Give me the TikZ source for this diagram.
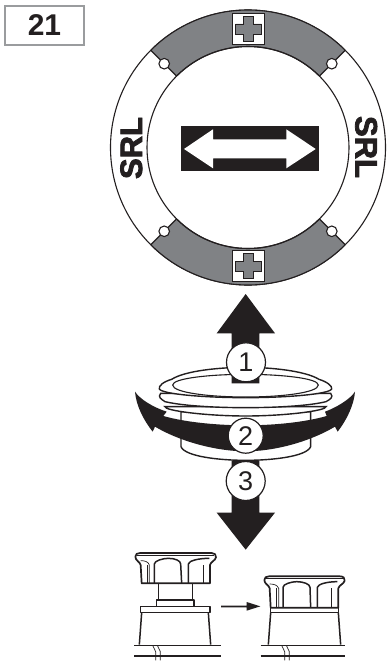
\documentclass[tikz,border=0pt]{standalone}
\usepackage{fontspec}
\setmainfont{Liberation Sans}
\newfontfamily\heavysans[FakeBold=2.5]{Liberation Sans Bold}
\definecolor{ink}{HTML}{231F20}
\definecolor{seg}{HTML}{808285}
\definecolor{frame}{HTML}{9A9C9E}
\tikzset{
  ringline/.style={draw=ink,line width=1.1pt},
  capline/.style={draw=ink,line width=1.4pt},
  numcirc/.style={circle,draw=ink,fill=white,line width=1.2pt,inner sep=0pt,text=ink,font=\fontsize{27}{27}\selectfont},
  srl/.style={text=ink,inner sep=0pt,font=\fontsize{31}{31}\heavysans},
  knob/.style={draw=ink,line width=1.5pt,line join=round},
  fineknob/.style={draw=ink,line width=.7pt},
  zooma/.style={shift={(120,280)},x=.33333pt,y=-.33333pt},
  zoomb/.style={shift={(120,540)},x=.33333pt,y=-.33333pt},
  crossbox/.style={draw=ink,line width=.9pt,fill=white},
  crossshape/.style={draw=ink,line width=.9pt,fill=seg},
  pin/.style={ringline,fill=white},
}
\begin{document}
\begin{tikzpicture}[x=1pt,y=-1pt]
\useasboundingbox[fill=white] (0,0) rectangle (386,661);
% title
\node[draw=frame,line width=1.2pt,fill=white,minimum width=79pt,minimum height=39pt,inner sep=0pt,text=ink,font=\fontsize{30}{30}\bfseries\selectfont] (title) at (44.5,25.5) {21};
% dial
\coordinate (c) at (248,147.5);
\draw[ringline,fill=white] (c) circle[radius=137.5];
\begin{scope}[shift={(248,147.5)}]
\foreach \a in {45,225}{
  \draw[ringline,fill=seg] (\a:137.5) arc[start angle=\a,end angle=\a+90,radius=137.5]
     -- (\a+90:101) arc[start angle=\a+90,end angle=\a,radius=101] -- cycle;
}
\draw[ringline] (0,0) circle[radius=101];
\foreach \a in {45,135,225,315}{
  \draw[pin] (\a:118.5) circle[radius=5.3];
}
\foreach \yy in {-118.5,118.5}{
  \begin{scope}[shift={(0.5,\yy)}]
  \draw[crossbox] (-15.7,-15.5) rectangle (15.7,15.5);
  \draw[crossshape] (-5,-12.8) -- (5,-12.8) -- (5,-5) -- (13,-5) -- (13,5) -- (5,5) -- (5,12.8) -- (-5,12.8) -- (-5,5) -- (-13,5) -- (-13,-5) -- (-5,-5) -- cycle;
  \end{scope}
}
\end{scope}
\fill[ink] (181,126) rectangle (319,171);
\fill[white] (184,149) -- (213,129.3) -- (213,139.3) -- (286.3,139.3) -- (286.3,129.3) -- (315.7,149) -- (286.3,168.3) -- (286.3,158.3) -- (213,158.3) -- (213,168.3) -- cycle;
\node[srl,rotate=90,anchor=base] (srlL) at (142,148) {SRL};
\node[srl,rotate=-90,anchor=base] (srlR) at (355.5,147) {SRL};
% cap body
\begin{scope}[zooma]
\draw[capline,fill=white] (183,395) -- (183,500) .. controls (195,530) and (300,541) .. (377,541) .. controls (455,541) and (560,530) .. (572,500) -- (572,395) -- cycle;
\draw[capline,fill=white] (135,380) .. controls (133,392) and (260,408) .. (377,408) .. controls (495,408) and (620,392) .. (618,380) -- cycle;
\draw[capline,fill=white] (122,340) .. controls (112,352) and (125,358) .. (135,365) .. controls (190,378) and (290,383) .. (377,383) .. controls (465,383) and (565,378) .. (618,365) .. controls (630,358) and (642,352) .. (632,340) -- cycle;
\draw[capline,fill=white] (155,298) .. controls (130,305) and (115,318) .. (118,327) .. controls (125,342) and (250,353) .. (377,353) .. controls (505,353) and (628,342) .. (635,327) .. controls (638,318) and (620,305) .. (597,298) .. controls (555,272) and (450,262) .. (377,262) .. controls (300,262) and (195,272) .. (155,298) -- cycle;
\draw[ringline,fill=white] (377,283) .. controls (270,283) and (158,295) .. (158,315) .. controls (158,338) and (270,351) .. (377,351) .. controls (485,351) and (595,338) .. (595,315) .. controls (595,295) and (485,283) .. (377,283) -- cycle;
% arrow 1
\fill[ink] (377,42) -- (465,160) -- (418,160) -- (418,310) -- (335,310) -- (335,160) -- (290,160) -- cycle;
% arrow 3
\fill[ink] (335,541) -- (418,541) -- (418,698) -- (465,698) -- (377,809) -- (290,698) -- (335,698) -- cycle;
% arrow 2
\fill[ink] (45,335) .. controls (60,358) and (100,382) .. (140,395) -- (130,408) .. controls (200,428) and (300,436) .. (377,436) .. controls (455,436) and (550,428) .. (620,408) -- (615,395) .. controls (650,382) and (690,358) .. (705,335) .. controls (702,375) and (680,420) .. (653,455) -- (645,440) .. controls (560,490) and (455,514) .. (377,514) .. controls (300,514) and (190,490) .. (105,440) -- (98,455) .. controls (70,420) and (48,375) .. (45,335) -- cycle;
\end{scope}
\node[numcirc,minimum size=39pt] (n1) at (246,362.3) {1};
\node[numcirc,minimum size=35pt] (n2) at (245.7,435.7) {2};
\node[numcirc,minimum size=39pt] (n3) at (245.7,481) {3};
% knobs
\begin{scope}[zoomb]
% left knob
\draw[knob,fill=white] (115,130) rectangle (218,180);
\draw[knob,fill=white] (110,180) rectangle (222,200);
\draw[knob,fill=white] (62,200) rectangle (270,218);
\draw[knob] (65,218) -- (58,314);
\draw[knob] (265,218) -- (272,314);
\draw[knob,fill=white,line width=1.7pt] (65,130) -- (62,75) .. controls (60,65) and (46,62) .. (46,50) .. controls (46,42) and (52,39) .. (60,39) -- (275,39) .. controls (284,39) and (289,44) .. (288,52) .. controls (286,62) and (272,65) .. (270,75) -- (270,130) -- cycle;
\draw[fineknob] (52,46) -- (282,46);
\draw[knob] (82,75) -- (82,130);
\draw[knob] (103,130) -- (103,72) .. controls (103,62) and (130,55) .. (145,55) .. controls (165,55) and (182,62) .. (182,72) -- (185,130);
\draw[knob] (205,130) -- (205,72) .. controls (207,62) and (235,55) .. (268,55);
\draw[knob] (250,75) -- (250,130);
\draw[fineknob] (62,62) .. controls (75,62) and (85,65) .. (88,75) -- (88,130);
% right knob
\draw[knob,fill=white] (452,203) rectangle (655,218);
\draw[knob] (452,218) -- (445,314);
\draw[knob] (655,218) -- (662,314);
\draw[knob,fill=white,line width=1.7pt] (452,203) -- (449,145) .. controls (447,135) and (433,132) .. (433,120) .. controls (433,112) and (439,109) .. (447,109) -- (660,109) .. controls (670,109) and (675,114) .. (674,122) .. controls (672,132) and (657,135) .. (655,145) -- (655,203) -- cycle;
\draw[fineknob] (439,116) -- (668,116);
\draw[knob] (470,145) -- (470,203);
\draw[fineknob] (449,132) .. controls (462,132) and (472,135) .. (476,145) -- (476,203);
\draw[knob] (489,203) -- (489,142) .. controls (489,132) and (515,125) .. (530,125) .. controls (550,125) and (570,132) .. (570,142) -- (572,203);
\draw[knob] (592,203) -- (592,142) .. controls (594,132) and (622,125) .. (652,125);
\draw[knob] (635,145) -- (635,203);
% ground lines
\draw[knob] (42,316) -- (303,316);
\draw[knob] (42,348) -- (303,348);
\draw[knob] (422,316) -- (675,316);
\draw[knob] (422,348) -- (675,348);
\draw[fineknob] (98,316) -- (107,335) -- (107,361);
\draw[fineknob] (112,316) -- (121,335) -- (121,361);
\draw[fineknob] (485,316) -- (494,335) -- (494,361);
\draw[fineknob] (499,316) -- (508,335) -- (508,361);
% arrow between
\fill[ink] (303,197) -- (380,197) -- (380,186) -- (421,199) -- (380,212) -- (380,202) -- (303,202) -- cycle;
\end{scope}
\end{tikzpicture}
\end{document}
